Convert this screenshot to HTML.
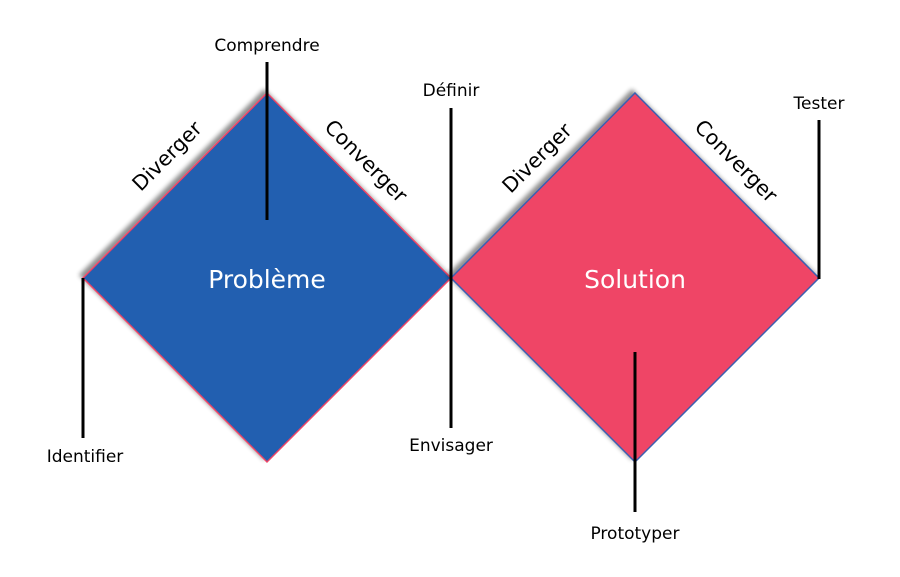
<!DOCTYPE html>
<html><head><meta charset="utf-8"><style>
html,body{margin:0;padding:0;background:#fff;}
svg{display:block;}
text{font-family:"DejaVu Sans","Liberation Sans",sans-serif;}
</style></head><body>
<svg width="900" height="577" viewBox="0 0 900 577" xmlns="http://www.w3.org/2000/svg">
<defs>
<filter id="sh" x="-20%" y="-20%" width="140%" height="140%">
<feGaussianBlur in="SourceAlpha" stdDeviation="2.5"/>
<feOffset dx="-3" dy="-3"/>
<feComponentTransfer><feFuncA type="linear" slope="0.45"/></feComponentTransfer>
<feMerge><feMergeNode/><feMergeNode in="SourceGraphic"/></feMerge>
</filter>
</defs>
<polygon points="267,93 451,278 267,462 83,278" fill="#235FB0" stroke="#EF4566" stroke-width="1.5" filter="url(#sh)"/>
<polygon points="635,93 819,278 635,462 451,278" fill="#EF4566" stroke="#3A5FB0" stroke-width="1.5" filter="url(#sh)"/>
<g stroke="#000" stroke-width="3">
<line x1="267" y1="62" x2="267" y2="220"/>
<line x1="451" y1="108" x2="451" y2="428"/>
<line x1="819" y1="120" x2="819" y2="279"/>
<line x1="83" y1="278" x2="83" y2="438"/>
<line x1="635" y1="352" x2="635" y2="512"/>
</g>
<g font-size="17" fill="#000" text-anchor="middle">
<text x="267" y="51">Comprendre</text>
<text x="451" y="96">Définir</text>
<text x="819" y="109">Tester</text>
<text x="85" y="462">Identifier</text>
<text x="451" y="451">Envisager</text>
<text x="635" y="539">Prototyper</text>
</g>
<g font-size="20.5" fill="#000" text-anchor="middle">
<text transform="translate(167,156) rotate(-45)" dy="7">Diverger</text>
<text transform="translate(366,161) rotate(45)" dy="7">Converger</text>
<text transform="translate(537,158) rotate(-45)" dy="7">Diverger</text>
<text transform="translate(736,161) rotate(45)" dy="7">Converger</text>
</g>
<g font-size="25" fill="#fff" text-anchor="middle">
<text x="267" y="288">Problème</text>
<text x="635" y="288">Solution</text>
</g>
</svg>
</body></html>
